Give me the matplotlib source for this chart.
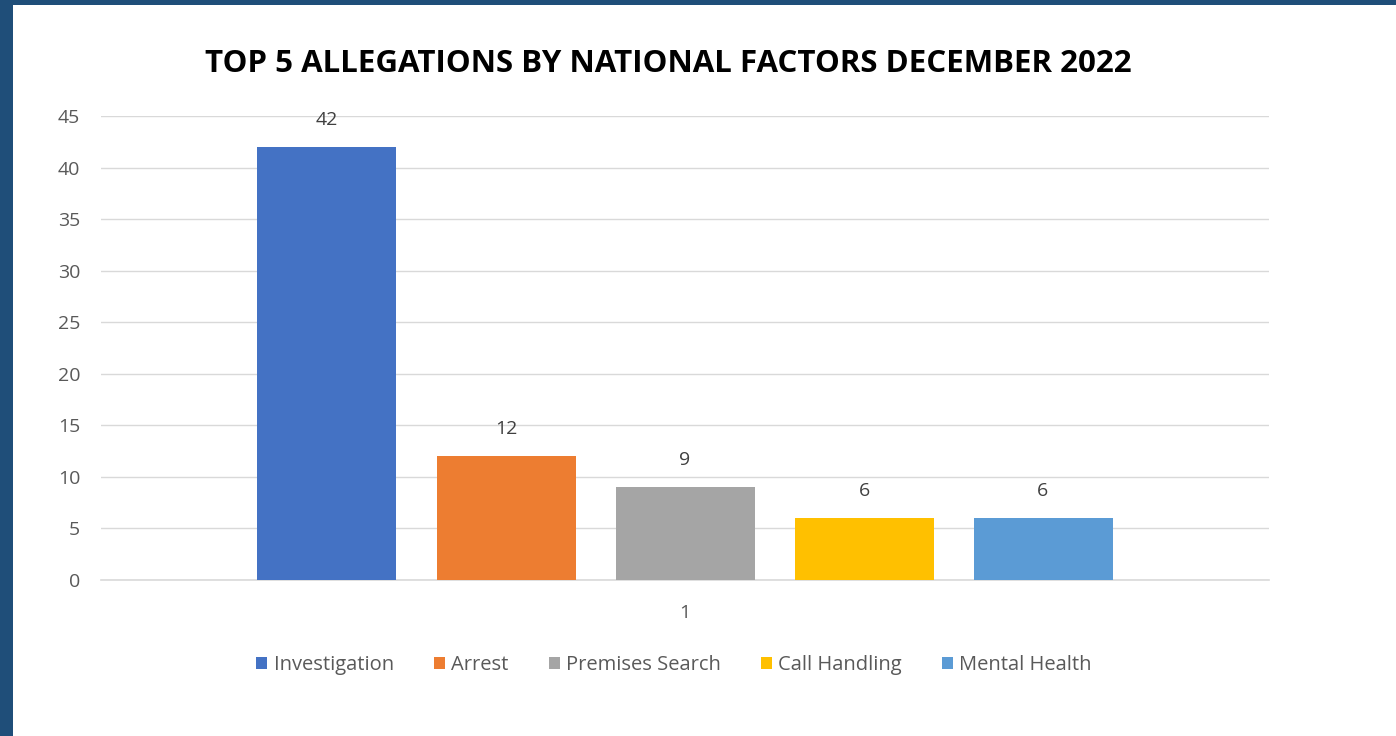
import matplotlib
matplotlib.use("Agg")
import matplotlib.pyplot as plt
from matplotlib.patches import Rectangle

categories = ["1"]
series_names = ["Investigation", "Arrest", "Premises Search", "Call Handling", "Mental Health"]
series_values = [42, 12, 9, 6, 6]
series_colors = ["#4472C4", "#ED7D31", "#A5A5A5", "#FFC000", "#5B9BD5"]
y_ticks = [0, 5, 10, 15, 20, 25, 30, 35, 40, 45]
title = "TOP 5 ALLEGATIONS BY NATIONAL FACTORS DECEMBER 2022"

W, H = 1396, 736
fig = plt.figure(figsize=(W / 100, H / 100), dpi=100)
fig.patch.set_facecolor("white")

# dark frame (top and left edges)
fig.patches.append(Rectangle((0, 1 - 5 / H), 1, 5 / H, transform=fig.transFigure,
                             facecolor="#1F4E79", edgecolor="none", zorder=0))
fig.patches.append(Rectangle((0, 0), 13 / W, 1, transform=fig.transFigure,
                             facecolor="#1F4E79", edgecolor="none", zorder=0))

ax = fig.add_axes([101 / W, 1 - 580 / H, (1269 - 101) / W, (580 - 116) / H])
font = "Open Sans"
step = 179 / 1168
width = 139 / 1168
n = len(series_names)
for i, (name, val, col) in enumerate(zip(series_names, series_values, series_colors)):
    x = 0 + (i - (n - 1) / 2) * step
    ax.bar([x], [val], width=width, color=col, label=name, zorder=3)
    ax.annotate(str(val), (x, val), xytext=(0, 19.5), textcoords="offset points",
                ha="center", va="center", fontsize=14, color="#404040", family=font)

ax.set_xlim(-0.5, 0.5)
ax.set_ylim(0, 45)
ax.set_yticks(y_ticks)
ax.set_xticks([0])
ax.set_xticklabels(categories)
for s in ["top", "right", "left"]:
    ax.spines[s].set_visible(False)
ax.spines["bottom"].set_color("#D9D9D9")
ax.spines["bottom"].set_linewidth(1.2)
ax.grid(axis="y", color="#D9D9D9", linewidth=1.0, zorder=0)
ax.tick_params(axis="both", length=0, labelsize=14, labelcolor="#595959")
ax.tick_params(axis="y", pad=15)
ax.tick_params(axis="x", pad=17)
for lab in ax.get_xticklabels() + ax.get_yticklabels():
    lab.set_family(font)

fig.text(668 / W, 1 - 64 / H, title, ha="center", va="center", fontsize=22.5,
         fontweight="bold", family=font, color="black")

leg = fig.legend(loc="center", bbox_to_anchor=(674 / W, 1 - 665 / H), ncol=5,
                 frameon=False, prop={"family": font, "size": 14.5},
                 handlelength=0.55, handleheight=0.55, handletextpad=0.3, columnspacing=2.0)
for t in leg.get_texts():
    t.set_color("#595959")

fig.savefig("out.png", dpi=100)
